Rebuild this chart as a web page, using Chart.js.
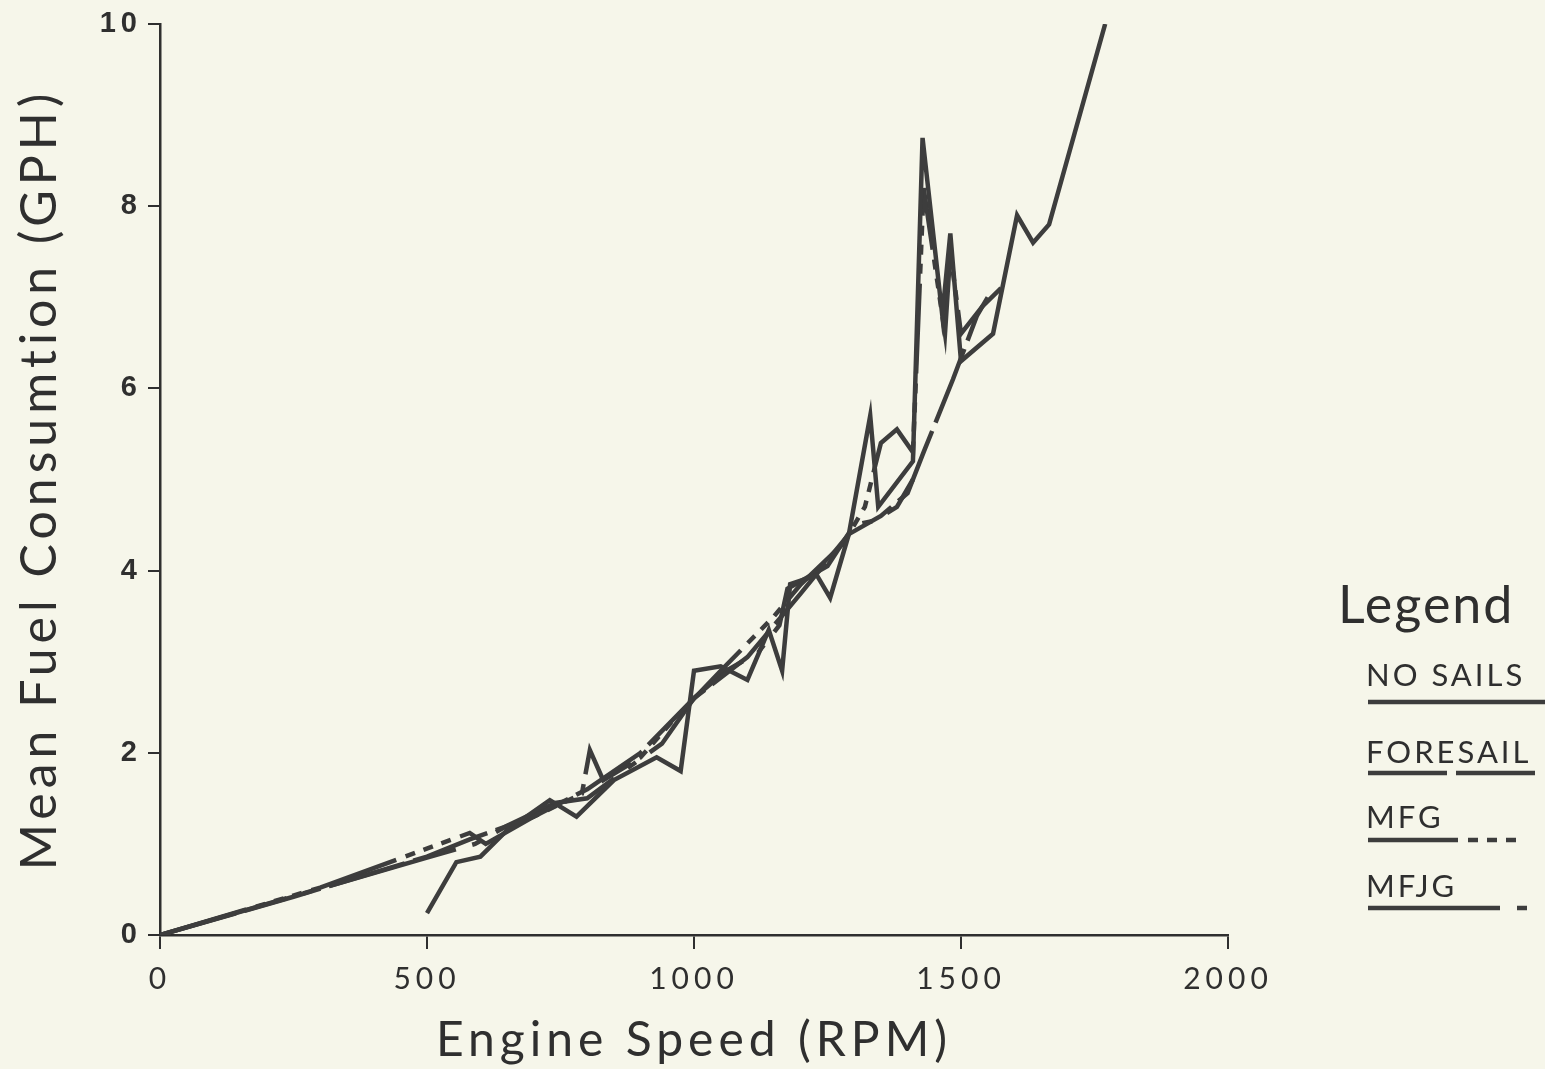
<!DOCTYPE html>
<html>
<head>
<meta charset="utf-8">
<script src="https://cdn.jsdelivr.net/npm/chart.js@4.4.1/dist/chart.umd.min.js"></script>
<style>
  html, body { margin: 0; padding: 0; background: #f6f6ea; }
  #wrap { width: 1545px; height: 1069px; position: relative; }
</style>
</head>
<body>
<div id="wrap"><canvas id="fuelChart" width="1545" height="1069"></canvas></div>
<script>
// Engine speed (RPM) / mean fuel consumption (GPH)
const noSailsRpm = [500, 555, 600, 650, 730, 780, 850, 930, 975, 1000, 1050, 1100, 1140, 1165, 1180, 1230, 1255, 1290, 1330, 1345, 1410, 1428, 1465, 1480, 1500, 1560, 1605, 1635, 1665, 1770];
const noSailsGph = [0.24, 0.8, 0.86, 1.15, 1.48, 1.3, 1.7, 1.95, 1.8, 2.9, 2.95, 2.8, 3.35, 2.9, 3.85, 3.95, 3.7, 4.4, 5.7, 4.7, 5.2, 8.75, 6.8, 7.7, 6.3, 6.6, 7.9, 7.6, 7.8, 10.0];

const foresailRpm = [0, 250, 500, 580, 700, 800, 900, 1000, 1100, 1200, 1290, 1350, 1400, 1430, 1485, 1530, 1550];
const foresailGph = [0, 0.42, 0.86, 1.05, 1.3, 1.6, 2.0, 2.6, 3.05, 3.75, 4.4, 4.6, 4.85, 5.3, 6.1, 6.8, 7.0];

const mfgRpm = [0, 300, 580, 610, 700, 790, 805, 830, 900, 960, 1050, 1150, 1200, 1280, 1320, 1350, 1380, 1410, 1430, 1470, 1480, 1500, 1540, 1575];
const mfgGph = [0, 0.52, 1.12, 1.0, 1.3, 1.55, 2.03, 1.7, 1.95, 2.35, 2.9, 3.5, 3.85, 4.3, 4.7, 5.4, 5.55, 5.3, 8.2, 6.6, 7.5, 6.6, 6.9, 7.1];

const mfjgRpm = [0, 500, 590, 650, 740, 800, 880, 940, 1000, 1060, 1120, 1160, 1175, 1250, 1300, 1340, 1380, 1410];
const mfjgGph = [0, 0.85, 1.0, 1.2, 1.45, 1.5, 1.85, 2.1, 2.6, 2.9, 3.1, 3.4, 3.8, 4.05, 4.5, 4.55, 4.7, 5.0];

const seriesNames = ['NO SAILS', 'FORESAIL', 'MFG', 'MFJG'];
const xTicks = [0, 500, 1000, 1500, 2000];
const yTicks = [0, 2, 4, 6, 8, 10];

const ink = '#2f2f2f';
const lineInk = '#3d3d3d';
const paper = '#f6f6ea';

function pts(xs, ys) {
    return xs.map((x, i) => ({ x: x, y: ys[i] }));
}

const dashes = [[], [79, 9], [90, 10, 10, 9, 10, 9, 10, 10], [132, 17, 10, 17]];
const seriesData = [
    pts(noSailsRpm, noSailsGph),
    pts(foresailRpm, foresailGph),
    pts(mfgRpm, mfgGph),
    pts(mfjgRpm, mfjgGph)
];

const datasets = seriesNames.map((name, i) => ({
    label: name,
    data: seriesData[i],
    borderColor: lineInk,
    borderWidth: 4.5,
    borderDash: dashes[i],
    pointRadius: 0,
    tension: 0,
    fill: false
}));

// paper background + spaced lettering like the old plotter fonts
const paperBg = {
    id: 'paperBg',
    beforeDraw(chart) {
        const ctx = chart.ctx;
        ctx.save();
        ctx.fillStyle = paper;
        ctx.fillRect(0, 0, chart.width, chart.height);
        ctx.restore();
        ctx.letterSpacing = '5px';
    }
};

// legend block on the right
const sideLegend = {
    id: 'sideLegend',
    afterDraw(chart) {
        const ctx = chart.ctx;
        ctx.save();
        ctx.fillStyle = ink;
        ctx.textBaseline = 'middle';
        ctx.letterSpacing = '2px';
        ctx.font = '400 52px Lato';
        ctx.fillText('Legend', 1338, 606);

        const rows = [
            { text: 676, line: 702, x2: 1545 },
            { text: 753, line: 773, x2: 1535 },
            { text: 818, line: 840, x2: 1518 },
            { text: 887, line: 908, x2: 1530 }
        ];
        ctx.letterSpacing = '3px';
        ctx.font = '400 31px Lato';
        rows.forEach((r, i) => {
            const ds = chart.data.datasets[i];
            ctx.fillStyle = ink;
            ctx.fillText(ds.label, 1366, r.text);
            ctx.beginPath();
            ctx.setLineDash(ds.borderDash || []);
            ctx.strokeStyle = lineInk;
            ctx.lineWidth = 4.5;
            ctx.moveTo(1368, r.line);
            ctx.lineTo(r.x2, r.line);
            ctx.stroke();
        });
        ctx.restore();
    }
};

new Chart(document.getElementById('fuelChart').getContext('2d'), {
    type: 'line',
    data: { datasets: datasets },
    options: {
        responsive: false,
        animation: false,
        events: [],
        layout: { padding: { top: 24, right: 317, left: 0, bottom: 0 } },
        plugins: {
            legend: { display: false },
            tooltip: { enabled: false }
        },
        scales: {
            x: {
                type: 'linear',
                min: 0,
                max: 2000,
                afterBuildTicks: (s) => { s.ticks = xTicks.map(v => ({ value: v })); },
                afterFit: (s) => { s.height = 134; },
                ticks: { color: ink, padding: 12, font: { family: 'Lato', size: 30 }, callback: (v) => String(v) },
                grid: { drawOnChartArea: false, drawTicks: true, tickLength: 14, color: ink, lineWidth: 2 },
                border: { display: true, color: ink, width: 2.5 },
                title: {
                    display: true,
                    text: 'Engine Speed (RPM)',
                    color: ink,
                    font: { family: 'Lato', size: 48 },
                    padding: { top: 0, bottom: 0 }
                }
            },
            y: {
                min: 0,
                max: 10,
                afterBuildTicks: (s) => { s.ticks = yTicks.map(v => ({ value: v })); },
                afterFit: (s) => { s.width = 160; },
                ticks: { color: ink, padding: 6, font: { family: 'Liberation Sans', size: 29, weight: 'bold' }, callback: (v) => String(v) },
                grid: { drawOnChartArea: false, drawTicks: true, tickLength: 12, color: ink, lineWidth: 2 },
                border: { display: true, color: ink, width: 2.5 },
                title: {
                    display: true,
                    text: 'Mean Fuel Consumtion (GPH)',
                    color: ink,
                    font: { family: 'Lato', size: 50 },
                    padding: { top: 10, bottom: 0 }
                }
            }
        }
    },
    plugins: [paperBg, sideLegend]
});
</script>
</body>
</html>
